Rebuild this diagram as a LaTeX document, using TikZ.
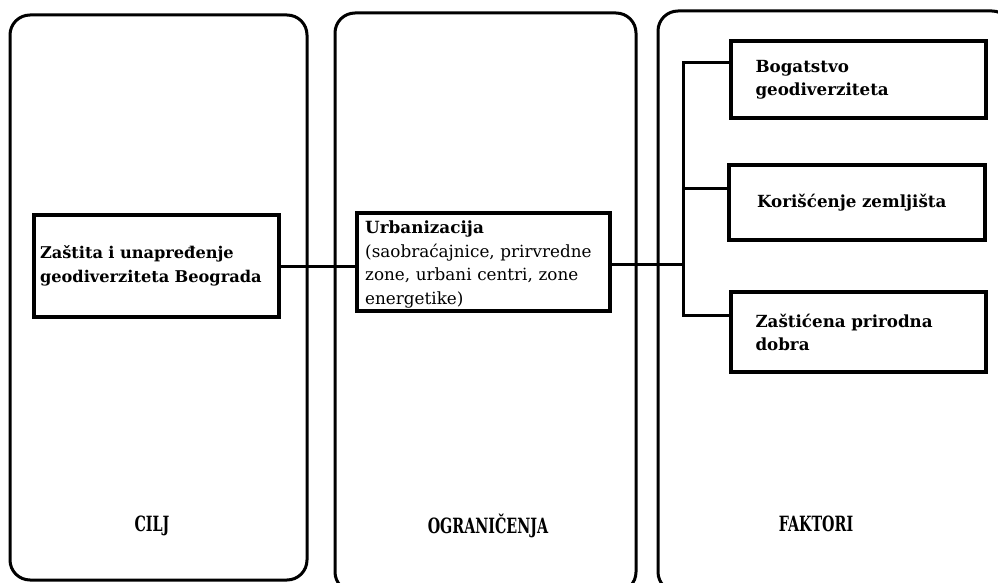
\documentclass[tikz,border=0pt]{standalone}
\usepackage{fontspec}
\setmainfont{DejaVu Serif}
\usetikzlibrary{calc}
\begin{document}
\begin{tikzpicture}[x=1pt,y=-1pt,
  panel/.style={draw, line width=3pt, rounded corners=20pt},
  box/.style={draw, line width=4pt, rectangle, align=left, anchor=center,
    font=\fontsize{16.7}{23}\selectfont\bfseries},
  link/.style={line width=3pt},
  heading/.style={font=\fontsize{21}{24}\selectfont\bfseries, inner sep=0pt, anchor=base}]
\useasboundingbox (0,0) rectangle (998,583);

% three column panels
\draw[panel] (10,15) rectangle (307,580);
\draw[panel] (335,13) rectangle (636,592);
\draw[panel] (658,11) rectangle (1012,592);

% column headings
\node[heading] (cilj) at (152,531) {\scalebox{0.68}[1]{CILJ}};
\node[heading] (ogr) at (488,533) {\scalebox{0.68}[1]{OGRANIČENJA}};
\node[heading] (fak) at (816,531) {\scalebox{0.68}[1]{FAKTORI}};

% goal
\node[box, minimum width=245, minimum height=102, text width=233, inner xsep=6,
  font=\fontsize{16.2}{24}\selectfont\bfseries]
  (goal) at (156.5,266) {Zaštita i unapređenje\\geodiverziteta Beograda};

% constraint
\node[box, minimum width=253, minimum height=98] (urb) at (483.5,262) {};
\node[anchor=north west, align=left, text width=240, inner sep=0pt,
  font=\fontsize{16.8}{23.5}\selectfont]
  (urbtext) at ($(urb.north west)+(10,10)$)
  {\textbf{Urbanizacija}\\(saobraćajnice, prirvredne\\zone, urbani centri, zone\\energetike)};

% factors
\node[box, minimum width=252, minimum height=77, text width=205, inner xsep=25]
  (f1) at (858,79.5) {Bogatstvo\\geodiverziteta};
\node[box, minimum width=252, minimum height=75, text width=200, inner xsep=28]
  (f2) at (857,202.5) {Korišćenje zemljišta};
\node[box, minimum width=252, minimum height=80, text width=205, inner xsep=25]
  (f3) at (858,332) {Zaštićena prirodna\\dobra};

% connectors
\coordinate (hub) at (683,264);
\coordinate (e1) at ($(f1.north west)+(0,24)$);
\coordinate (e2) at ($(f2.north west)+(0,25)$);
\coordinate (e3) at ($(f3.north west)+(0,25)$);
\draw[link] (goal.east) -- (goal.east -| urb.west);
\draw[link] (urb.east |- hub) -- (hub);
\draw[link] (e1) -| (hub) |- (e3);
\draw[link] (hub |- e2) -- (e2);
\end{tikzpicture}
\end{document}
